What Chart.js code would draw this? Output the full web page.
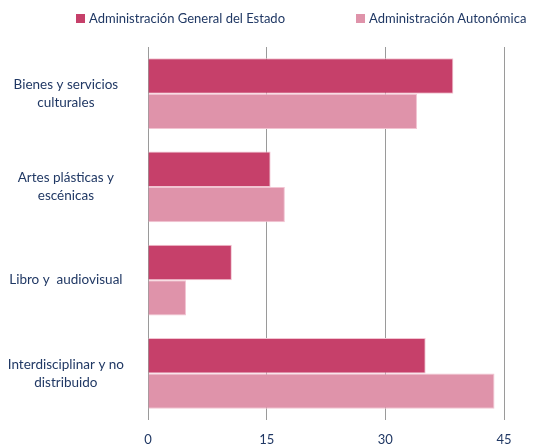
<!DOCTYPE html>
<html>
<head>
<meta charset="utf-8">
<script src="https://cdn.jsdelivr.net/npm/chart.js@4/dist/chart.umd.min.js"></script>
<style>
  html, body { margin: 0; padding: 0; background: #fff; }
  #wrap { position: relative; width: 541px; height: 444px; }
  #legend { position: absolute; top: 0; left: 0; width: 541px; height: 40px; font-family: Lato, 'Liberation Sans', sans-serif; font-size: 13px; color: #203864; }
  #legend .item { position: absolute; top: 10px; white-space: nowrap; line-height: 16px; }
  #legend .box { display: inline-block; width: 9px; height: 9px; margin-right: 4px; vertical-align: 0px; }
</style>
</head>
<body>
<div id="wrap">
  <canvas id="chart"></canvas>
  <div id="legend"></div>
</div>
<script>
  const categories = [
    ["Bienes y servicios", "culturales"],
    ["Artes plásticas y", "escénicas"],
    ["Libro y  audiovisual"],
    ["Interdisciplinar y no", "distribuido"]
  ];
  const seriesNames = ["Administración General del Estado", "Administración Autonómica"];
  const estado = [38.6, 15.5, 10.6, 35.1];
  const autonomica = [34.0, 17.3, 4.8, 43.8];
  const xTicks = [0, 15, 30, 45];

  const TEXT = "#203864";
  const FONT = "Lato, 'Liberation Sans', sans-serif";
  const legendLeft = [76, 356];

  const chart = new Chart(document.getElementById("chart"), {
    type: "bar",
    data: {
      labels: categories,
      datasets: [{
        label: seriesNames[0],
        data: estado,
        backgroundColor: "#c6406a",
        borderColor: "#f2c4d2",
        borderWidth: 1,
        categoryPercentage: 0.76,
        barPercentage: 1
      }, {
        label: seriesNames[1],
        data: autonomica,
        backgroundColor: "#df93aa",
        borderColor: "#f2c4d2",
        borderWidth: 1,
        categoryPercentage: 0.76,
        barPercentage: 1
      }]
    },
    options: {
      indexAxis: "y",
      responsive: true,
      maintainAspectRatio: false,
      animation: false,
      layout: { padding: { left: 0, right: 37, top: 47, bottom: 0 } },
      plugins: {
        tooltip: { enabled: false },
        legend: { display: false }
      },
      scales: {
        x: {
          min: 0,
          max: 45,
          afterBuildTicks: (axis) => { axis.ticks = xTicks.map(v => ({ value: v })); },
          afterFit: (axis) => { axis.height = 24; },
          grid: { color: "#9a9a9a", lineWidth: 1, drawTicks: false },
          border: { display: false },
          ticks: { color: TEXT, padding: 12, font: { family: FONT, size: 13 } }
        },
        y: {
          afterFit: (axis) => {
            axis.width = 148;
            axis.paddingTop = 0;
            axis.paddingBottom = 0;
          },
          grid: { display: false },
          border: { display: false },
          ticks: {
            color: TEXT,
            padding: 16,
            crossAlign: "center",
            font: { family: FONT, size: 13.5, lineHeight: 1.3 }
          }
        }
      }
    }
  });

  // html legend built from the chart's datasets
  document.getElementById("legend").innerHTML = chart.data.datasets.map((ds, i) => `
    <span class="item" style="left:${legendLeft[i]}px">
      <span class="box" style="background:${ds.backgroundColor}"></span>${ds.label}
    </span>
  `).join("");
</script>
</body>
</html>
